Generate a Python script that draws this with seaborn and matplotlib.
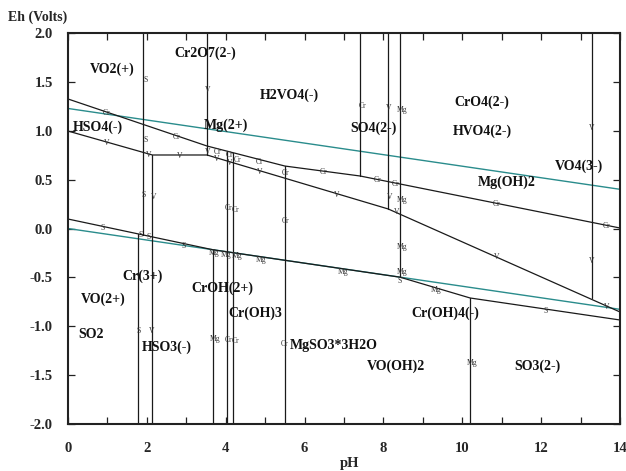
import matplotlib
matplotlib.use("Agg")
import matplotlib.pyplot as plt
import numpy as np
import pandas as pd
import seaborn as sns

# ---------------- data (pH, Eh in volts) ----------------
water_ph = [0, 14]
o2_eh = [1.228, 0.401]
h2_eh = [0.0, -0.827]

lineA_ph = [0, 3.525, 5.50, 7.41, 14]
lineA_eh = [1.325, 0.844, 0.639, 0.537, 0.005]
lineB_ph = [0, 2.14, 3.525, 8.12, 14]
lineB_eh = [0.997, 0.752, 0.752, 0.20, -0.854]
lineC_ph = [0, 3.67, 8.42, 10.2, 14]
lineC_eh = [0.097, -0.217, -0.498, -0.711, -0.936]

vert_ph = [1.90, 1.77, 2.14, 3.525, 3.67, 4.03, 4.19, 5.50, 7.41, 8.12, 8.42, 10.2, 13.3]
vert_top = [2.0, -0.054, 0.752, 2.0, -0.217, 0.792, 0.775, 0.639, 2.0, 2.0, 2.0, -0.711, 2.0]
vert_bot = [-0.066, -2.0, -2.0, 0.752, -2.0, -2.0, -2.0, -2.0, 0.537, 0.20, -0.498, -2.0, -0.71]

region_names = ["VO2(+)", "Cr2O7(2-)", "H2VO4(-)", "HSO4(-)", "Mg(2+)", "SO4(2-)",
                "CrO4(2-)", "HVO4(2-)", "VO4(3-)", "Mg(OH)2", "Cr(3+)", "VO(2+)",
                "SO2", "CrOH(2+)", "Cr(OH)3", "HSO3(-)", "MgSO3*3H2O", "VO(OH)2",
                "Cr(OH)4(-)", "SO3(2-)"]
region_ph = [0.56, 2.69, 4.87, 0.13, 3.45, 7.15, 9.81, 9.76, 12.35, 10.40, 1.37, 0.33,
             0.25, 3.14, 4.08, 1.88, 5.63, 7.58, 8.70, 11.31]
region_eh = [1.632, 1.795, 1.366, 1.038, 1.059, 1.028, 1.294, 0.997, 0.640, 0.476,
             -0.486, -0.720, -1.080, -0.609, -0.864, -1.220, -1.200, -1.407, -0.864, -1.407]

tag_text = (["S"] * 10 + ["V"] * 18 + ["Cr"] * 19 + ["Mg"] * 12)
tag_ph = [1.98, 1.98, 1.93, 0.89, 1.85, 2.05, 2.92, 1.78, 8.42, 12.12,
          3.53, 0.99, 2.05, 2.84, 3.53, 3.78, 4.11, 4.87, 2.16, 2.13, 6.82, 8.17, 8.34,
          8.14, 13.29, 10.88, 13.29, 13.67,
          0.99, 2.76, 3.80, 4.11, 4.29, 4.87, 5.53, 4.06, 4.26, 5.53, 7.46, 6.47, 7.84,
          8.32, 10.88, 13.67, 4.06, 4.26, 5.50,
          8.47, 8.47, 8.47, 8.47, 6.97, 9.33, 10.25, 3.73, 3.70, 4.02, 4.30, 4.89]
tag_eh = [1.52, 0.905, 0.343, 0.005, -0.067, -0.087, -0.18, -1.05, -0.54, -0.84,
          1.42, 0.875, 0.752, 0.742, 0.78, 0.71, 0.67, 0.578, 0.322, -1.05, 0.343, 0.322,
          0.169, 1.233, 1.028, -0.29, -0.33, -0.80,
          1.18, 0.936, 0.783, 0.752, 0.70, 0.68, 0.568, 0.21, 0.19, 0.077, 1.253, 0.578,
          0.496, 0.455, 0.25, 0.026, -1.14, -1.15, -1.18,
          1.21, 0.29, -0.19, -0.445, -0.445, -0.63, -1.376, -1.13, -0.25, -0.27, -0.28, -0.32]

# ---------------- build tables ----------------
rows = []
seg = 0
for phs, ehs in [(lineA_ph, lineA_eh), (lineB_ph, lineB_eh), (lineC_ph, lineC_eh)]:
    for p, e in zip(phs, ehs):
        rows.append((seg, p, e))
    seg += 1
for p, t, b in zip(vert_ph, vert_top, vert_bot):
    rows.append((seg, p, t))
    rows.append((seg, p, b))
    seg += 1
black_df = pd.DataFrame(rows, columns=["seg", "pH", "Eh"])

water_df = pd.DataFrame({
    "seg": [0, 0, 1, 1],
    "pH": water_ph + water_ph,
    "Eh": o2_eh + h2_eh,
})

# ---------------- figure ----------------
sns.set_theme(style="white")
plt.rcParams['font.family'] = ['Liberation Serif', 'DejaVu Serif']

fig = plt.figure(figsize=(6.26, 4.71), dpi=100)
ax = fig.add_axes([68 / 626, 1 - 424 / 471, (620 - 68) / 626, (424 - 33) / 471])

teal = "#2a8c8c"
sns.lineplot(data=water_df, x="pH", y="Eh", units="seg", estimator=None, sort=False,
             color=teal, lw=1.0, ax=ax, legend=False)
sns.lineplot(data=black_df, x="pH", y="Eh", units="seg", estimator=None, sort=False,
             color="#1a1a1a", lw=0.9, ax=ax, legend=False)

ax.set_xlim(0, 14)
ax.set_ylim(-2, 2)
ax.set_xlabel("")
ax.set_ylabel("")
ax.set_xticks(np.arange(0, 15, 2))
ax.set_xticks(np.arange(1, 14, 2), minor=True)
ax.set_yticks(np.arange(-2, 2.01, 0.5))
ax.set_xticklabels([f"{v:d}" for v in range(0, 15, 2)])
ax.set_yticklabels([f"{v:.1f}" for v in np.arange(-2, 2.01, 0.5)])
ax.tick_params(which="both", direction="in", length=5, width=0.9, color="#222222",
               top=True, right=True, bottom=True, left=True)
ax.tick_params(axis="x", which="major", pad=13, labelsize=10.5)
ax.tick_params(axis="y", which="major", pad=11, labelsize=10.5)
for lab in ax.get_xticklabels() + ax.get_yticklabels():
    lab.set_fontweight("bold")
for sp in ax.spines.values():
    sp.set_color("#222222")
    sp.set_linewidth(1.5)

for name, p, e in zip(region_names, region_ph, region_eh):
    ax.text(p, e, name, ha="left", va="center", fontsize=10, fontweight="bold",
            color="#111111")

for t, p, e in zip(tag_text, tag_ph, tag_eh):
    ax.text(p, e, t, ha="center", va="center", fontsize=5.5, color="#333333")

fig.text(8 / 626, 1 - 17 / 471, "Eh (Volts)", ha="left", va="center",
         fontsize=10, fontweight="bold")
fig.text(350 / 626, 1 - 464 / 471, "pH", ha="center", va="center",
         fontsize=10.5, fontweight="bold")

fig.savefig("out.png", dpi=100)
